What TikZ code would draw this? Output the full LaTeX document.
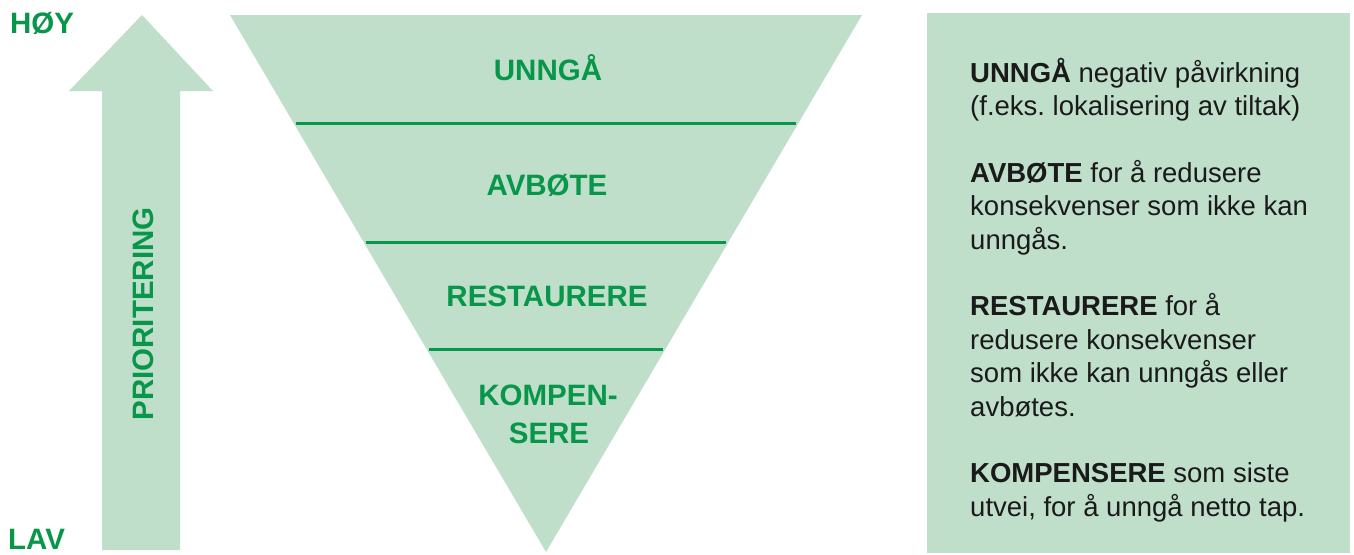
\documentclass[tikz,border=0pt]{standalone}
\usepackage{fontspec}
\setmainfont{Liberation Sans}
\definecolor{lg}{HTML}{C0DFCA}
\definecolor{dg}{HTML}{08964A}
\definecolor{tx}{HTML}{1A1A1A}
\begin{document}
\frenchspacing
\begin{tikzpicture}[x=1pt,y=-1pt,
  gl/.style={font=\fontsize{29.5}{38}\selectfont\bfseries, text=dg, inner sep=0pt},
  bl/.style={font=\fontsize{27.5}{33.4}\selectfont, text=tx, anchor=base west, inner sep=0pt},
  sepline/.style={draw=dg, line width=3pt}]
\useasboundingbox (0,0) rectangle (1354,554);
% priority arrow
\fill[lg] (142,15) -- (213,91) -- (180,91) -- (180,550) -- (102,550) -- (102,91) -- (69,91) -- cycle;
\node[gl, anchor=base west] (hoy) at (10,33) {HØY};
\node[gl, anchor=base west] (lav) at (8,549) {LAV};
\node[gl, rotate=90] (prio) at (143,314) {PRIORITERING};
% inverted triangle
\fill[lg] (230,15) -- (862,15) -- (546,552) -- cycle;
\coordinate (l1a) at (296,123); \coordinate (l1b) at (796,123);
\coordinate (l2a) at (366,242); \coordinate (l2b) at (726,242);
\coordinate (l3a) at (429,349); \coordinate (l3b) at (663,349);
\draw[sepline] (l1a) -- (l1b);
\draw[sepline] (l2a) -- (l2b);
\draw[sepline] (l3a) -- (l3b);
\node[gl, anchor=base] (t1) at (548,80) {UNNGÅ};
\node[gl, anchor=base] (t2) at (547,195) {AVBØTE};
\node[gl, anchor=base] (t3) at (547,306) {RESTAURERE};
\node[gl, anchor=base] (t4) at (548,405) {KOMPEN-};
\node[gl, anchor=base] (t5) at (549,443) {SERE};
% explanation box
\fill[lg] (927,13) rectangle (1350,553);
\node[bl] (r1) at (970,82) {\textbf{UNNGÅ} negativ påvirkning};
\node[bl] (r2) at (970,115.4) {(f.eks. lokalisering av tiltak)};
\node[bl] (r3) at (970,182.2) {\textbf{AVBØTE} for å redusere};
\node[bl] (r4) at (970,215.6) {konsekvenser som ikke kan};
\node[bl] (r5) at (970,249) {unngås.};
\node[bl] (r6) at (970,315.8) {\textbf{RESTAURERE} for å};
\node[bl] (r7) at (970,349.2) {redusere konsekvenser};
\node[bl] (r8) at (970,382.6) {som ikke kan unngås eller};
\node[bl] (r9) at (970,416) {avbøtes.};
\node[bl] (r10) at (970,482.8) {\textbf{KOMPENSERE} som siste};
\node[bl] (r11) at (970,516.2) {utvei, for å unngå netto tap.};
\end{tikzpicture}
\end{document}
